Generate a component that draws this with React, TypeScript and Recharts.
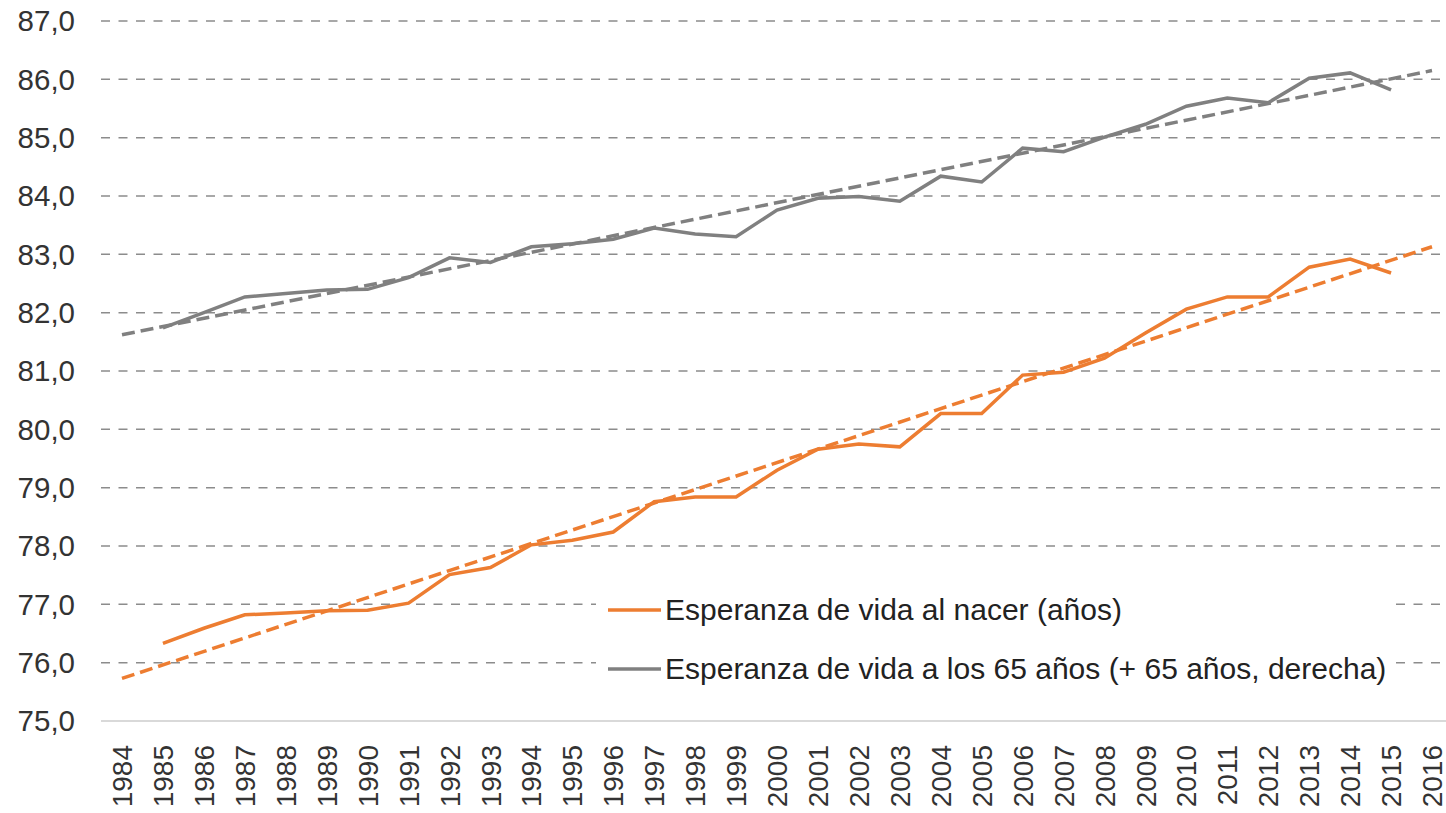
import { CartesianGrid, Legend, Line, LineChart, XAxis, YAxis } from 'recharts';

const years = [
  '1984', '1985', '1986', '1987', '1988', '1989', '1990', '1991', '1992', '1993', '1994',
  '1995', '1996', '1997', '1998', '1999', '2000', '2001', '2002', '2003', '2004', '2005',
  '2006', '2007', '2008', '2009', '2010', '2011', '2012', '2013', '2014', '2015', '2016',
];

// esperanza de vida al nacer (años)
const atBirth = [
  null, 76.33, 76.59, 76.82, 76.85, 76.89, 76.9, 77.02, 77.51, 77.63, 78.02,
  78.1, 78.24, 78.76, 78.84, 78.84, 79.3, 79.66, 79.75, 79.7, 80.27, 80.27,
  80.93, 80.98, 81.22, 81.65, 82.06, 82.27, 82.27, 82.78, 82.92, 82.68, null,
];

// esperanza de vida a los 65 años (+65)
const at65 = [
  null, 81.74, 82.0, 82.27, 82.33, 82.39, 82.4, 82.6, 82.94, 82.86, 83.13,
  83.18, 83.26, 83.45, 83.35, 83.3, 83.76, 83.96, 83.99, 83.91, 84.34, 84.24,
  84.82, 84.76, 85.01, 85.23, 85.54, 85.68, 85.6, 86.02, 86.11, 85.82, null,
];

// trend lines, read at both ends
const trendYears = ['1984', '2016'];
const atBirthTrend = [75.73, 83.13];
const at65Trend = [81.62, 86.15];

const yTicks = [75, 76, 77, 78, 79, 80, 81, 82, 83, 84, 85, 86, 87];

const seriesLabels = {
  atBirth: 'Esperanza de vida al nacer (años)',
  at65: 'Esperanza de vida a los 65 años (+ 65 años, derecha)',
};

const ORANGE = '#ED7D31';
const GRAY = '#808080';
const FONT = '"Liberation Sans", Arial, sans-serif';

const data = years.map((year, i) => {
  const t = trendYears.indexOf(year);
  return {
    year,
    atBirth: atBirth[i],
    at65: at65[i],
    atBirthTrend: t >= 0 ? atBirthTrend[t] : null,
    at65Trend: t >= 0 ? at65Trend[t] : null,
  };
});

function formatTick(value: number): string {
  return value.toFixed(1).replace('.', ',');
}

function YearTick(props: any) {
  const { x, y, payload } = props;
  return (
    <text
      x={x}
      y={y}
      dy="0.36em"
      transform={`rotate(-90, ${x}, ${y})`}
      textAnchor="end"
      fontSize={28}
      fontFamily={FONT}
      fill="#333"
    >
      {payload.value}
    </text>
  );
}

function LegendBox() {
  const rows = [
    { label: seriesLabels.atBirth, color: ORANGE },
    { label: seriesLabels.at65, color: GRAY },
  ];
  return (
    <div style={{ background: '#fff', padding: '0 6px 0 12px', fontFamily: FONT }}>
      {rows.map((row) => (
        <div key={row.label} style={{ display: 'flex', alignItems: 'center', height: 59 }}>
          <svg width={55} height={6} style={{ marginRight: 2 }}>
            <line x1={0} y1={3} x2={53} y2={3} stroke={row.color} strokeWidth={3.5} />
          </svg>
          <span style={{ fontSize: 30, color: '#222', whiteSpace: 'nowrap' }}>{row.label}</span>
        </div>
      ))}
    </div>
  );
}

export default function App() {
  return (
    <div style={{ position: 'absolute', left: 0, top: 0, width: 1446, height: 813, overflow: 'hidden', background: '#fff' }}>
      <LineChart width={1453} height={813} data={data} margin={{ top: 21, right: 0, left: 0, bottom: 0 }}>
        <CartesianGrid
          vertical={false}
          horizontalValues={yTicks.slice(1)}
          stroke="#8c8c8c"
          strokeWidth={1.5}
          strokeDasharray="9 8.5"
        />
        <XAxis
          dataKey="year"
          interval={0}
          height={92}
          padding={{ left: 21, right: 21 }}
          tickLine={false}
          tickSize={0}
          tickMargin={24}
          axisLine={{ stroke: '#d9d9d9', strokeWidth: 2 }}
          tick={<YearTick />}
        />
        <YAxis
          width={101}
          domain={[75, 87]}
          ticks={yTicks}
          interval={0}
          tickLine={false}
          axisLine={false}
          tickSize={0}
          tickMargin={26}
          tickFormatter={formatTick}
          tick={{ fontSize: 29.5, fill: '#333', fontFamily: FONT }}
        />
        <Legend
          layout="horizontal"
          verticalAlign="middle"
          align="center"
          wrapperStyle={{ left: 596, top: 580, width: 'auto' }}
          content={<LegendBox />}
        />
        <Line
          dataKey="atBirthTrend"
          stroke={ORANGE}
          strokeWidth={3.5}
          strokeDasharray="13 6"
          dot={false}
          connectNulls
          legendType="none"
          isAnimationActive={false}
        />
        <Line
          dataKey="at65Trend"
          stroke={GRAY}
          strokeWidth={3.5}
          strokeDasharray="13 6"
          dot={false}
          connectNulls
          legendType="none"
          isAnimationActive={false}
        />
        <Line
          dataKey="atBirth"
          name={seriesLabels.atBirth}
          stroke={ORANGE}
          strokeWidth={3.5}
          dot={false}
          isAnimationActive={false}
        />
        <Line
          dataKey="at65"
          name={seriesLabels.at65}
          stroke={GRAY}
          strokeWidth={3.5}
          dot={false}
          isAnimationActive={false}
        />
      </LineChart>
    </div>
  );
}
